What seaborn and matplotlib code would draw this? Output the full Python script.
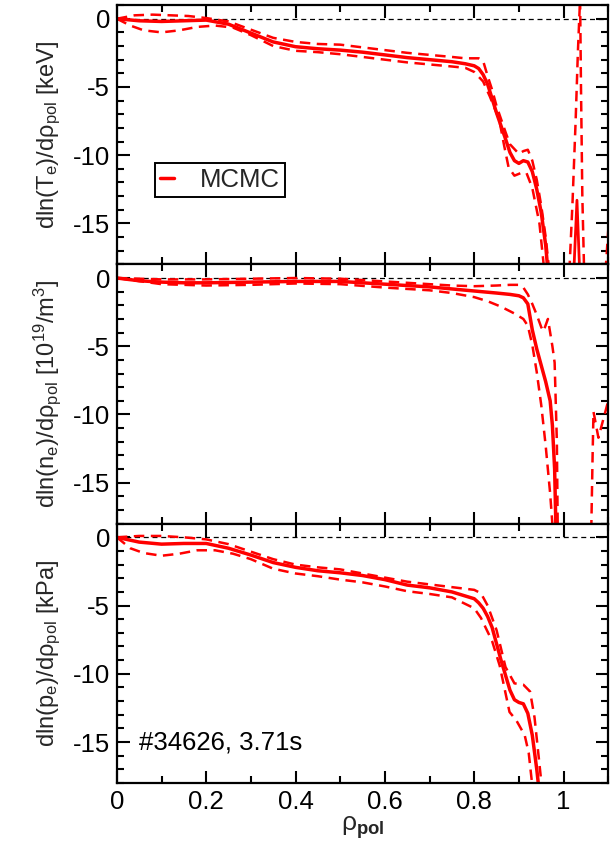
import matplotlib
matplotlib.use("Agg")
import matplotlib.pyplot as plt
import seaborn as sns
import numpy as np
import pandas as pd
from matplotlib.ticker import MultipleLocator

# ---------------- data ----------------
# Te panel
te_rho = [0, 0.05, 0.1, 0.15, 0.2, 0.25, 0.3, 0.35, 0.4, 0.45, 0.5, 0.55, 0.6, 0.65, 0.7, 0.75, 0.78, 0.8,
          0.81, 0.82, 0.83, 0.85, 0.87, 0.88, 0.89, 0.9, 0.91, 0.92, 0.93, 0.94, 0.95, 0.96, 0.965]
te_val = [0, -0.15, -0.2, -0.15, -0.1, -0.4, -1.05, -1.7, -2.05, -2.2, -2.3, -2.45, -2.65, -2.85, -3.0, -3.15, -3.3, -3.45,
          -3.65, -4.1, -4.8, -6.9, -8.8, -9.8, -10.4, -10.6, -10.4, -10.5, -11.2, -12.5, -14.2, -16.6, -18.5]
te_up_rho = [0, 0.04, 0.08, 0.12, 0.16, 0.2, 0.25, 0.3, 0.35, 0.4, 0.45, 0.5, 0.55, 0.6, 0.65, 0.7, 0.75, 0.78, 0.81,
             0.82, 0.83, 0.84, 0.85, 0.87, 0.88, 0.9, 0.91, 0.92, 0.93, 0.94, 0.95, 0.96, 0.968]
te_up_val = [0, 0.25, 0.3, 0.25, 0.2, 0.05, -0.2, -0.8, -1.4, -1.7, -1.85, -1.9, -2.1, -2.3, -2.5, -2.65, -2.8, -2.9, -2.9,
             -3.1, -4.2, -5.2, -6.4, -8.3, -9.2, -9.9, -9.7, -9.6, -10.4, -11.8, -13.7, -16.0, -18.5]
te_lo_rho = [0, 0.03, 0.06, 0.1, 0.14, 0.18, 0.22, 0.26, 0.3, 0.35, 0.4, 0.45, 0.5, 0.55, 0.6, 0.65, 0.7, 0.75, 0.78,
             0.8, 0.82, 0.835, 0.856, 0.867, 0.877, 0.89, 0.905, 0.917, 0.93, 0.946, 0.957]
te_lo_val = [0, -0.5, -0.85, -1.0, -0.85, -0.6, -0.5, -0.65, -1.2, -2.0, -2.35, -2.45, -2.6, -2.8, -3.0, -3.2, -3.35, -3.5, -3.6,
             -3.9, -4.6, -5.7, -7.4, -9.3, -10.9, -11.5, -11.3, -11.3, -12.4, -15.0, -18.5]
# outer (beyond separatrix) branches, Te
te_out1_rho = [1.013, 1.02, 1.027, 1.032, 1.037]
te_out1_val = [-18.5, -13.5, -7.5, -2.5, 1.5]
te_out2_rho = [1.037, 1.039, 1.042, 1.046]
te_out2_val = [1.5, -5.0, -13.0, -18.5]
te_out3_rho = [1.023, 1.030, 1.036]
te_out3_val = [-18.5, -13.3, -18.5]
te_out4_rho = [1.094, 1.1]
te_out4_val = [-18.5, -15.5]

# ne panel
ne_rho = [0, 0.05, 0.1, 0.15, 0.2, 0.3, 0.4, 0.5, 0.6, 0.7, 0.75, 0.8, 0.85, 0.88, 0.9, 0.91, 0.92, 0.93,
          0.94, 0.95, 0.96, 0.97, 0.975, 0.98, 0.983]
ne_val = [0, -0.2, -0.3, -0.35, -0.35, -0.3, -0.25, -0.25, -0.45, -0.65, -0.8, -0.95, -1.1, -1.2, -1.3, -1.45, -1.9, -3.8,
          -5.2, -6.4, -7.6, -9.0, -10.8, -14.0, -18.5]
ne_up_rho = [0, 0.1, 0.2, 0.3, 0.4, 0.5, 0.6, 0.7, 0.75, 0.8, 0.85, 0.88, 0.9, 0.91, 0.92, 0.93, 0.94, 0.95, 0.955,
             0.965, 0.975, 0.98, 0.985, 0.987]
ne_up_val = [0, -0.1, -0.1, -0.05, 0.0, -0.05, -0.25, -0.45, -0.55, -0.6, -0.55, -0.5, -0.5, -0.7, -1.2, -1.9, -2.7, -3.6, -3.9,
             -3.0, -5.0, -6.2, -12.0, -18.5]
ne_lo_rho = [0, 0.1, 0.2, 0.3, 0.4, 0.5, 0.6, 0.7, 0.75, 0.8, 0.83, 0.86, 0.89, 0.91, 0.92, 0.93, 0.94, 0.95, 0.96,
             0.97, 0.976]
ne_lo_val = [0, -0.45, -0.55, -0.5, -0.4, -0.45, -0.7, -0.9, -1.1, -1.4, -1.7, -2.1, -2.6, -3.0, -3.5, -4.9, -6.9, -9.3, -12.3,
             -15.8, -18.5]
ne_out1_rho = [1.062, 1.065, 1.067, 1.078, 1.1]
ne_out1_val = [-18.5, -13.0, -9.8, -11.7, -9.0]

# pe panel
pe_rho = [0, 0.05, 0.1, 0.15, 0.2, 0.25, 0.3, 0.35, 0.4, 0.45, 0.5, 0.55, 0.6, 0.65, 0.7, 0.75, 0.8, 0.81, 0.82,
          0.83, 0.84, 0.86, 0.88, 0.89, 0.9, 0.91, 0.92, 0.93, 0.94, 0.945]
pe_val = [0, -0.35, -0.5, -0.45, -0.45, -0.8, -1.3, -1.85, -2.2, -2.45, -2.6, -2.8, -3.1, -3.5, -3.7, -4.0, -4.5, -4.8, -5.2,
          -5.8, -6.6, -9.0, -11.2, -11.9, -12.1, -12.2, -12.9, -14.5, -17.0, -18.5]
pe_up_rho = [0, 0.05, 0.1, 0.15, 0.2, 0.25, 0.3, 0.35, 0.4, 0.45, 0.5, 0.55, 0.6, 0.65, 0.7, 0.75, 0.8, 0.815, 0.83,
             0.85, 0.87, 0.89, 0.91, 0.925, 0.935, 0.945, 0.952]
pe_up_val = [0, 0.1, 0.1, 0.0, -0.15, -0.5, -1.05, -1.6, -2.0, -2.2, -2.35, -2.65, -2.95, -3.25, -3.45, -3.65, -3.85, -4.1, -5.0,
             -6.8, -9.5, -10.7, -10.8, -11.3, -13.2, -16.3, -18.5]
pe_lo_rho = [0, 0.03, 0.06, 0.1, 0.14, 0.18, 0.22, 0.26, 0.3, 0.35, 0.4, 0.45, 0.5, 0.55, 0.6, 0.65, 0.7, 0.75, 0.8,
             0.815, 0.84, 0.857, 0.879, 0.894, 0.913, 0.922, 0.931]
pe_lo_val = [0, -0.8, -1.15, -1.35, -1.2, -0.95, -0.95, -1.2, -1.6, -2.3, -2.65, -2.85, -3.1, -3.3, -3.6, -3.95, -4.15, -4.4, -5.2,
             -5.9, -7.6, -9.4, -12.8, -13.4, -14.5, -15.8, -18.5]

xticks = [0, 0.2, 0.4, 0.6, 0.8, 1]
xticklabels = ["0", "0.2", "0.4", "0.6", "0.8", "1"]
yticks = [0, -5, -10, -15]
ylabels = [
    "dln(T$_\\mathrm{e}$)/dρ$_\\mathrm{pol}$ [keV]",
    "dln(n$_\\mathrm{e}$)/dρ$_\\mathrm{pol}$ [10$^{19}$/m$^3$]",
    "dln(p$_\\mathrm{e}$)/dρ$_\\mathrm{pol}$ [kPa]",
]
legend_label = "MCMC"
annotation = "#34626, 3.71s"

# ---------------- style ----------------
sns.set_theme(style="ticks")
plt.rcParams["font.family"] = ["Liberation Sans", "DejaVu Sans"]
plt.rcParams["mathtext.fontset"] = "custom"
plt.rcParams["mathtext.rm"] = "Liberation Sans"
plt.rcParams["mathtext.it"] = "Liberation Sans:italic"
plt.rcParams["mathtext.bf"] = "Liberation Sans:bold"

RED = "#ff0000"
fig = plt.figure(figsize=(6.15, 8.47), dpi=100)
gs = fig.add_gridspec(3, 1, left=0.19, right=0.989, top=0.994, bottom=0.0756, hspace=0)
axes = [fig.add_subplot(gs[i]) for i in range(3)]

panels = [
    (te_rho, te_val, te_up_rho, te_up_val, te_lo_rho, te_lo_val,
     [(te_out1_rho, te_out1_val, "--"), (te_out2_rho, te_out2_val, "--"),
      (te_out3_rho, te_out3_val, "-"), (te_out4_rho, te_out4_val, "--")]),
    (ne_rho, ne_val, ne_up_rho, ne_up_val, ne_lo_rho, ne_lo_val,
     [(ne_out1_rho, ne_out1_val, "--")]),
    (pe_rho, pe_val, pe_up_rho, pe_up_val, pe_lo_rho, pe_lo_val, []),
]

DASH = (0, (4.2, 2.6))
for i, (ax, p) in enumerate(zip(axes, panels)):
    r, v, ur, uv, lr, lv, outs = p
    ax.axhline(0, color="black", lw=0.9, ls=(0, (4, 3)), zorder=1)
    sns.lineplot(x=ur, y=uv, ax=ax, color=RED, lw=1.8, linestyle=DASH, sort=False, estimator=None)
    sns.lineplot(x=lr, y=lv, ax=ax, color=RED, lw=1.8, linestyle=DASH, sort=False, estimator=None)
    sns.lineplot(x=r, y=v, ax=ax, color=RED, lw=2.5, sort=False, estimator=None,
                 label=legend_label if i == 0 else None)
    for orr, ov, st in outs:
        if st == "-":
            sns.lineplot(x=orr, y=ov, ax=ax, color=RED, lw=2.0, sort=False, estimator=None)
        else:
            sns.lineplot(x=orr, y=ov, ax=ax, color=RED, lw=1.8, linestyle=DASH, sort=False, estimator=None)

    ax.set_xlim(0, 1.1)
    ax.set_ylim(-18, 1)
    ax.set_xticks(xticks)
    ax.xaxis.set_minor_locator(MultipleLocator(0.1))
    ax.set_yticks(yticks)
    ax.set_yticklabels([str(t) for t in yticks])
    ax.yaxis.set_minor_locator(MultipleLocator(1))
    ax.tick_params(which="both", direction="in", top=True, right=True, width=1.5, colors="black")
    ax.tick_params(which="major", length=9, labelsize=18.5, pad=5)
    ax.tick_params(which="minor", length=5)
    for s in ax.spines.values():
        s.set_linewidth(1.6)
        s.set_color("black")
    ax.set_ylabel(ylabels[i], fontsize=17, labelpad=7)
    if i < 2:
        ax.set_xticklabels([])
        ax.set_xlabel("")
    else:
        ax.set_xticklabels(xticklabels)
        ax.set_xlabel("ρ$_{\\mathbf{pol}}$", fontsize=19, labelpad=0)

leg = axes[0].legend(loc="upper left", bbox_to_anchor=(0.077, 0.391), fontsize=18.5,
                     handlelength=0.55, handletextpad=1.0, borderpad=0.2, borderaxespad=0,
                     fancybox=False, framealpha=1, edgecolor="black")
leg.get_frame().set_linewidth(1.4)

axes[2].text(0.045, 0.155, annotation, transform=axes[2].transAxes, fontsize=18.5,
             ha="left", va="center", color="black")

fig.align_ylabels(axes)
fig.savefig("out.png", dpi=100)
